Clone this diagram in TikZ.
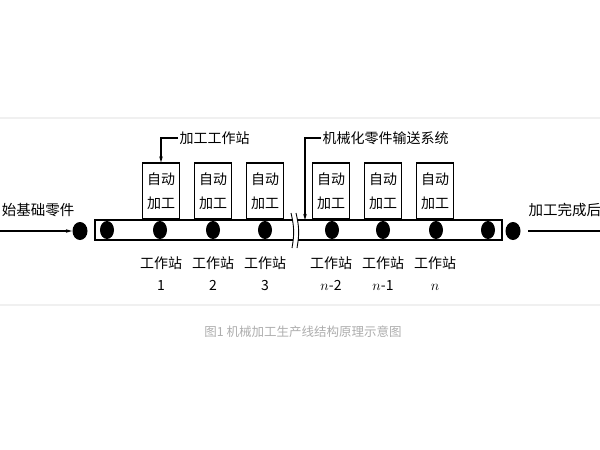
\documentclass[tikz,border=0pt]{standalone}
\usepackage{fontspec}
\usepackage{xcolor}
\usepackage{tikz}
\setmainfont{Noto Sans CJK SC}
\usetikzlibrary{calc}
\usetikzlibrary{arrows.meta}
\usetikzlibrary{shapes.geometric}
\tikzstyle{machbox} = [draw=black, fill=white, line width=1.1pt, rectangle,
minimum width=37pt, minimum height=56pt, inner sep=0pt, align=center,
font=\fontsize{14}{24}\selectfont]
\tikzstyle{part} = [fill=black, ellipse, minimum width=14pt, minimum height=18pt, inner sep=0pt]
\tikzstyle{stationlabel} = [align=center, inner sep=0pt, font=\fontsize{14}{22}\selectfont]
\tikzstyle{callout} = [anchor=west, inner sep=1pt, font=\fontsize{14}{16}\selectfont]
\tikzstyle{flowtext} = [inner sep=0pt, font=\fontsize{14.5}{16}\selectfont]

\begin{document}
\begin{tikzpicture}[x=1pt, y=-1pt, line width=1.1pt, >={Stealth[length=6pt,width=3.5pt]}]
        \useasboundingbox (0,0) rectangle (600,450);
        % faint panel
        \draw[line width=2pt, black!6] (0,118) -- (600,118);
        \draw[line width=2pt, black!6] (0,305) -- (600,305);
        % conveyor, broken in the middle
        \draw (293,220) -- (95,220) -- (95,240) -- (293,240);
        \draw (298,220) -- (502,220) -- (502,240) -- (298,240);
        \draw[line width=0.9pt] (291,213) to[bend left=12] (292,248);
        \draw[line width=0.9pt] (296,213) to[bend left=12] (297,248);
        \coordinate (convtop) at (305,220);
        % parts on the conveyor
        \foreach \px in {107,160,213,265,332,383,436,488}
            \node[part] at (\px,230) {};
        \node[part, minimum width=15pt] (inball) at (80,231) {};
        \node[part, minimum width=15pt] (outball) at (513,231) {};
        % stations
        \foreach \sx/\sn [count=\i] in {161/1, 213/2, 265/3, 331/$n$-2, 383/$n$-1, 435/$n$} {
            \node[machbox] (box\i) at (\sx,191) {自动\\加工};
            \node[stationlabel] (st\i) at (\sx,274) {工作站\\\sn};
        }
        % in and out
        \coordinate (instart) at (0,231);
        \coordinate (outend) at (600,231);
        \draw[->] (instart) -- (inball);
        \draw (outball.east) ++(7,0) -- (outend);
        \node[flowtext, anchor=east] (intext) at (75,210) {始基础零件};
        \node[flowtext, anchor=west] (outtext) at (528,210) {加工完成后};
        % callouts
        \node[callout] (lbl1) at (178,138) {加工工作站};
        \node[callout] (lbl2) at (321,138) {机械化零件输送系统};
        \draw[->] (lbl1.west) -| (box1.north);
        \draw[->] (lbl2.west) -| (convtop);
        % caption
        \node[text=black!32, font=\fontsize{12.5}{14}\selectfont] (caption) at (303,332) {图1 机械加工生产线结构原理示意图};
    \end{tikzpicture}
\end{document}
